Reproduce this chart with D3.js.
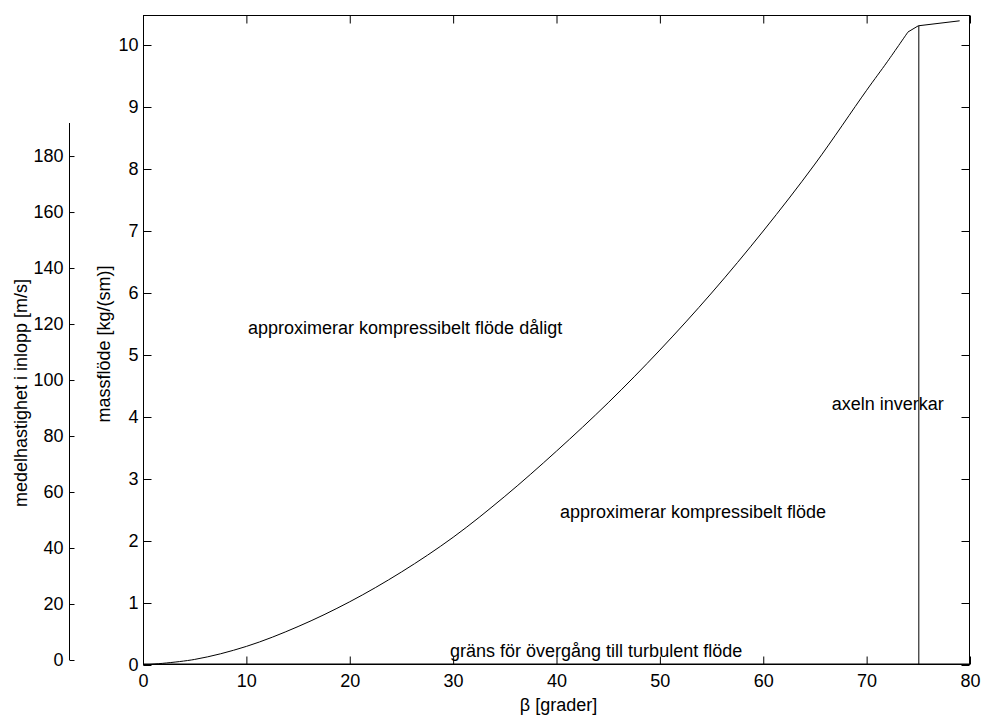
<!DOCTYPE html>
<html><head><meta charset="utf-8">
<script src="https://cdn.jsdelivr.net/npm/d3@7"></script>
<style>
body{margin:0;background:#fff;}
text{font-family:"Liberation Sans",Arial,Helvetica,sans-serif;fill:#000;}
</style></head>
<body><svg id="c" width="982" height="715"></svg>
<script>
// Data
const beta = [0, 5, 10, 15, 20, 25, 30, 35, 40, 45, 50, 55, 60, 65, 70, 72, 74];
const massflow = [0, 0.09, 0.30, 0.62, 1.02, 1.50, 2.06, 2.72, 3.45, 4.23, 5.08, 6.0, 7.0, 8.08, 9.27, 9.73, 10.21];
const tailBeta = [74, 75, 79];
const tailFlow = [10.21, 10.31, 10.39];
const shaftBeta = [75, 75];
const shaftFlow = [0, 10.31];
const turbBeta = [0, 80];
const turbFlow = [0.015, 0.015];
const xTicks = [0, 10, 20, 30, 40, 50, 60, 70, 80];
const yTicks = [0, 1, 2, 3, 4, 5, 6, 7, 8, 9, 10];
const vTicks = [0, 20, 40, 60, 80, 100, 120, 140, 160, 180];
const annotations = [
  {text: "approximerar kompressibelt flöde dåligt", b: 10.16, m: 5.34},
  {text: "approximerar kompressibelt flöde", b: 40.34, m: 2.37},
  {text: "axeln inverkar", b: 66.62, m: 4.11},
  {text: "gräns för övergång till turbulent flöde", b: 29.7, m: 0.13}
];

const svg = d3.select("#c");
const L = 143, R = 970, T = 15, B = 665;
const x = d3.scaleLinear().domain([0, 80]).range([L, R]);
const y = d3.scaleLinear().domain([0, 10.484]).range([B, T]);
const v = d3.scaleLinear().domain([0, 191.8]).range([660, 123]);
const fs = "18px";

// box
svg.append("rect").attr("x", L + 0.5).attr("y", T + 0.5).attr("width", R - L - 1).attr("height", B - T - 1)
  .attr("fill", "none").attr("stroke", "#000").attr("stroke-width", 1);

function styleAxis(g){
  g.select(".domain").remove();
  g.selectAll(".tick line").attr("stroke", "#000");
  g.selectAll(".tick text").style("font-size", fs).attr("fill", "#000");
}
// bottom
svg.append("g").attr("transform", `translate(0,${B - 0.5})`)
  .call(d3.axisBottom(x).tickValues(xTicks).tickSizeInner(-8).tickSizeOuter(0).tickPadding(10))
  .call(styleAxis);
// top
svg.append("g").attr("transform", `translate(0,${T + 0.5})`)
  .call(d3.axisTop(x).tickValues(xTicks).tickSizeInner(-8).tickSizeOuter(0).tickFormat(""))
  .call(styleAxis);
// left
svg.append("g").attr("transform", `translate(${L + 0.5},0)`)
  .call(d3.axisLeft(y).tickValues(yTicks).tickSizeInner(-8).tickSizeOuter(0).tickPadding(5))
  .call(styleAxis);
// right
svg.append("g").attr("transform", `translate(${R - 0.5},0)`)
  .call(d3.axisRight(y).tickValues(yTicks).tickSizeInner(-8).tickSizeOuter(0).tickFormat(""))
  .call(styleAxis);

// secondary left axis
const g2 = svg.append("g").attr("transform", `translate(69.5,0)`)
  .call(d3.axisLeft(v).tickValues(vTicks).tickSizeInner(-5).tickSizeOuter(0).tickPadding(6));
g2.select(".domain").remove();
g2.selectAll(".tick line").attr("stroke", "#000");
g2.selectAll(".tick text").style("font-size", fs);
g2.append("line").attr("x1", 0).attr("x2", 0).attr("y1", v(0)).attr("y2", v(191.8)).attr("stroke", "#000");

// curves
svg.append("path").datum(beta.map((b, i) => [b, massflow[i]]))
  .attr("d", d3.line().x(d => x(d[0])).y(d => y(d[1])).curve(d3.curveCatmullRom))
  .attr("fill", "none").attr("stroke", "#000").attr("stroke-width", 1);
svg.append("path").datum(tailBeta.map((b, i) => [b, tailFlow[i]]))
  .attr("d", d3.line().x(d => x(d[0])).y(d => y(d[1])))
  .attr("fill", "none").attr("stroke", "#000").attr("stroke-width", 1);
svg.append("path").datum(shaftBeta.map((b, i) => [b, shaftFlow[i]]))
  .attr("d", d3.line().x(d => x(d[0]) + 0.5).y(d => y(d[1]))).attr("fill", "none").attr("stroke", "#000").attr("stroke-width", 1);
svg.append("path").datum(turbBeta.map((b, i) => [b, turbFlow[i]]))
  .attr("d", d3.line().x(d => x(d[0])).y(d => y(d[1]))).attr("fill", "none").attr("stroke", "#000").attr("stroke-width", 1.2);

// annotations
svg.selectAll(".ann").data(annotations).enter().append("text")
  .attr("x", d => x(d.b)).attr("y", d => y(d.m)).style("font-size", fs).text(d => d.text);

// axis labels
svg.append("text").attr("x", (L + R) / 2 + 2).attr("y", 711).attr("text-anchor", "middle").style("font-size", fs)
  .text("β [grader]");
svg.append("text").attr("transform", "translate(110,344) rotate(-90)").attr("text-anchor", "middle").style("font-size", fs)
  .text("massflöde [kg/(sm)]");
svg.append("text").attr("transform", "translate(27,393) rotate(-90)").attr("text-anchor", "middle").style("font-size", fs)
  .text("medelhastighet i inlopp [m/s]");
</script></body></html>
